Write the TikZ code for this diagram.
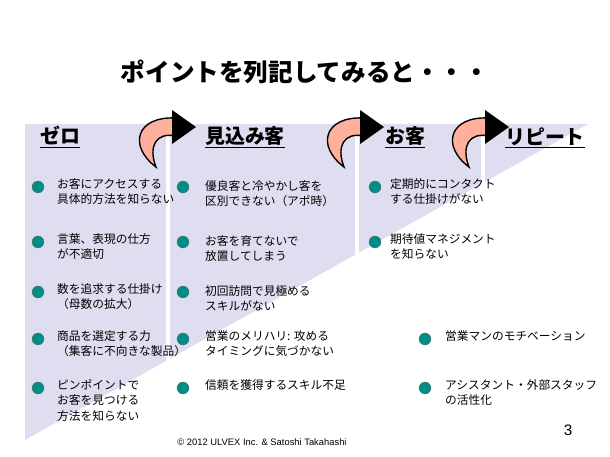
\documentclass[tikz,border=0pt]{standalone}
\usepackage{fontspec}
\setmainfont{Noto Sans CJK JP}
\setsansfont{Liberation Sans}
\usepackage{tikz}
\usetikzlibrary{arrows.meta}
\definecolor{lavender}{RGB}{222,222,240}
\definecolor{tealdot}{RGB}{0,140,135}
\definecolor{pinkarrow}{RGB}{255,175,155}
\tikzset{
  dot/.style={circle,fill=tealdot,draw=black!60,line width=0.3pt,minimum size=0.36cm,inner sep=0pt},
  item/.style={anchor=north west,align=left,inner sep=0pt,font=\fontsize{10}{13.5}\selectfont},
  head/.style={anchor=south west,inner sep=0pt,font=\fontsize{17}{20}\selectfont\bfseries},
  curl/.pic={
    \fill[pinkarrow,draw=black,line width=1.2pt] (26,55) .. controls (-2,34) and (6,4) .. (46,6)
      -- (46,24) .. controls (26,20) and (18,34) .. cycle;
    \fill[black] (42,-2) -- (66,15) -- (42,32) -- cycle;
  }
}
\begin{document}
\begin{tikzpicture}[x=0.03cm,y=-0.03cm]
\useasboundingbox (0,0) rectangle (610,457);
% background band
\fill[lavender] (25,124) -- (588,124) -- (25,440) -- cycle;
\foreach \gx in {168,357,483}
  \draw[white,line width=3pt] (\gx,135) -- (\gx,440);
% title
\node[font=\fontsize{21}{24}\selectfont\bfseries] (title) at (305,72) {ポイントを列記してみると・・・};
% curved arrows
\pic at (130,112) {curl};
\pic at (318,112) {curl};
\pic at (443,112) {curl};
% headers
\node[head] (zero) at (40,148) {\underline{ゼロ}};
\node[head] (prospect) at (205,148) {\underline{見込み客}};
\node[head] (customer) at (385,148) {\underline{お客}};
\node[head] (repeat) at (505,148) {\underline{リピート}};
% column 1
\node[dot] (z1) at (38,187) {};
\node[item] (tz1) at (57,178) {お客にアクセスする\\具体的方法を知らない};
\node[dot] (z2) at (38,242) {};
\node[item] (tz2) at (57,233) {言葉、表現の仕方\\が不適切};
\node[dot] (z3) at (38,292) {};
\node[item] (tz3) at (57,283) {数を追求する仕掛け\\（母数の拡大）};
\node[dot] (z4) at (38,339) {};
\node[item] (tz4) at (57,330) {商品を選定する力\\（集客に不向きな製品）};
\node[dot] (z5) at (38,388) {};
\node[item] (tz5) at (57,379) {ピンポイントで\\お客を見つける\\方法を知らない};
% column 2
\node[dot] (p1) at (183,187) {};
\node[item] (tp1) at (205,180) {優良客と冷やかし客を\\区別できない（アポ時）};
\node[dot] (p2) at (183,242) {};
\node[item] (tp2) at (205,235) {お客を育てないで\\放置してしまう};
\node[dot] (p3) at (183,292) {};
\node[item] (tp3) at (205,285) {初回訪問で見極める\\スキルがない};
\node[dot] (p4) at (183,339) {};
\node[item] (tp4) at (205,330) {営業のメリハリ: 攻める\\タイミングに気づかない};
\node[dot] (p5) at (183,388) {};
\node[item] (tp5) at (205,379) {信頼を獲得するスキル不足};
% column 3
\node[dot] (c1) at (375,187) {};
\node[item] (tc1) at (390,178) {定期的にコンタクト\\する仕掛けがない};
\node[dot] (c2) at (375,242) {};
\node[item] (tc2) at (390,233) {期待値マネジメント\\を知らない};
% column 4
\node[dot] (r1) at (425,339) {};
\node[item] (tr1) at (445,330) {営業マンのモチベーション};
\node[dot] (r2) at (425,388) {};
\node[item] (tr2) at (445,379) {アシスタント・外部スタッフ\\の活性化};
% footer
\node[font=\sffamily\fontsize{8}{10}\selectfont] (copy) at (262,442) {© 2012 ULVEX Inc. \& Satoshi Takahashi};
\node[font=\sffamily\fontsize{13}{15}\selectfont] (page) at (568,430) {3};
\end{tikzpicture}
\end{document}
